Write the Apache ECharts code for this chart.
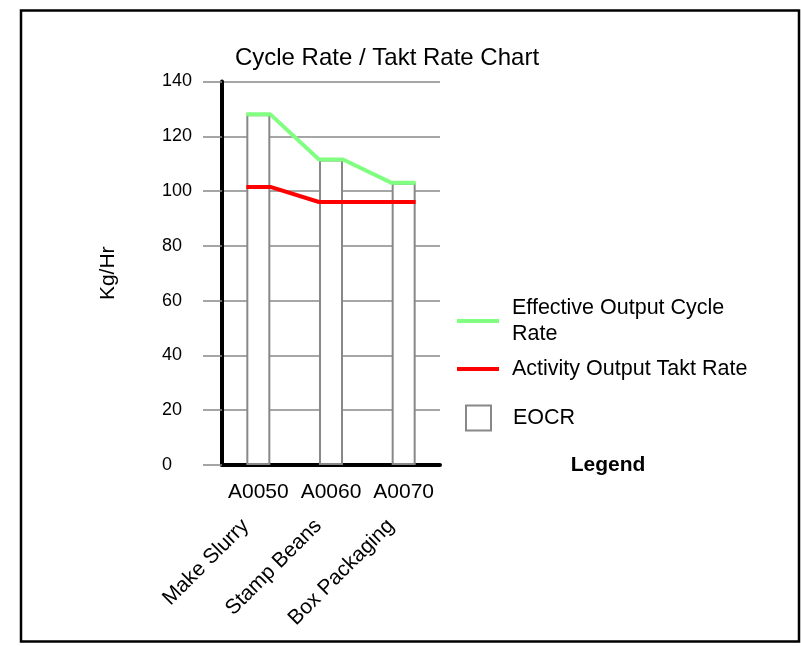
<!DOCTYPE html>
<html>
<head>
<meta charset="utf-8">
<script src="https://cdn.jsdelivr.net/npm/echarts@6/dist/echarts.min.js"></script>
<style>html,body{margin:0;padding:0;background:#fff}#c{width:801px;height:646px}</style>
</head>
<body>
<div id="c"></div>
<script>
const activityCodes = ['A0050', 'A0060', 'A0070'];
const activityNames = ['Make Slurry', 'Stamp Beans', 'Box Packaging'];
const eocrValues = [128, 111.5, 103];
const taktValues = [101.5, 96, 96];
const yTicks = { min: 0, max: 140, interval: 20 };
const seriesNames = ['Effective Output Cycle Rate', 'Activity Output Takt Rate', 'EOCR'];

const FONT = "'Liberation Sans', Arial, sans-serif";
const gridLeft = 222, gridRight = 361;
const plotWidth = 801 - gridLeft - gridRight;
const barWidthPx = 24;
const half = (barWidthPx / 2) / (plotWidth / activityCodes.length);

function stepLine(vals) {
  const pts = [];
  vals.forEach((v, i) => { pts.push([i - half, v]); pts.push([i + half, v]); });
  return pts;
}

const chart = echarts.init(document.getElementById('c'), null, { renderer: 'canvas' });
chart.setOption({
  animation: false,
  backgroundColor: '#fff',
  textStyle: { fontFamily: FONT, color: '#000' },
  grid: { left: gridLeft, right: gridRight, top: 81.5, bottom: 181 },
  graphic: [
    { type: 'rect', shape: { x: 21, y: 10.5, width: 778, height: 631 }, style: { fill: 'none', stroke: '#000', lineWidth: 2.5 }, silent: true },
    { type: 'text', x: 387, y: 58, style: { text: 'Cycle Rate / Takt Rate Chart', font: '24px ' + FONT, fill: '#000', textAlign: 'center', textVerticalAlign: 'middle' } },
    { type: 'text', x: 608, y: 465, style: { text: 'Legend', font: 'bold 21px ' + FONT, fill: '#000', textAlign: 'center', textVerticalAlign: 'middle' } }
  ],
  legend: [
    { data: [seriesNames[0]], left: 457, top: 295, padding: 0, orient: 'vertical', icon: 'rect', itemWidth: 42, itemHeight: 4, selectedMode: false,
      formatter: n => 'Effective Output Cycle\nRate',
      textStyle: { fontFamily: FONT, fontSize: 21.5, color: '#000', lineHeight: 26, padding: [0, 0, 0, 8] } },
    { data: [seriesNames[1]], left: 457, top: 356, padding: 0, icon: 'rect', itemWidth: 42, itemHeight: 4, selectedMode: false,
      textStyle: { fontFamily: FONT, fontSize: 21.5, color: '#000', lineHeight: 26, padding: [0, 0, 0, 8] } },
    { data: [seriesNames[2]], left: 465, top: 404.5, padding: 0, icon: 'rect', itemWidth: 25, itemHeight: 25, selectedMode: false,
      itemStyle: { color: '#fff', borderColor: '#888', borderWidth: 2 },
      textStyle: { fontFamily: FONT, fontSize: 21.5, color: '#000', lineHeight: 26, padding: [0, 0, 0, 17] } }
  ],
  xAxis: [
    { type: 'category', data: activityCodes, position: 'bottom', boundaryGap: true,
      axisLine: { onZero: false, lineStyle: { color: '#000', width: 4 } },
      axisTick: { show: false }, splitLine: { show: false },
      axisLabel: { interval: 0, margin: 17, fontSize: 21, color: '#000', fontFamily: FONT } },
    { type: 'category', data: activityNames, position: 'bottom', boundaryGap: true,
      axisLine: { show: false, onZero: false }, axisTick: { show: false }, splitLine: { show: false },
      axisLabel: { interval: 0, rotate: 45, margin: 45, padding: [0, 18, 0, 0], fontSize: 21, color: '#000', fontFamily: FONT } },
    { type: 'value', min: -0.5, max: 2.5, position: 'top', show: false,
      axisLine: { onZero: false }, splitLine: { show: false } }
  ],
  yAxis: {
    type: 'value', min: yTicks.min, max: yTicks.max, interval: yTicks.interval,
    name: 'Kg/Hr', nameLocation: 'middle', nameGap: 103,
    nameTextStyle: { fontSize: 21, color: '#000', fontFamily: FONT },
    axisLine: { show: true, onZero: false, lineStyle: { color: '#000', width: 4 } },
    axisTick: { show: true, length: 19, lineStyle: { color: '#888', width: 1.5 } },
    splitLine: { show: true, lineStyle: { color: '#888', width: 1.5 } },
    axisLabel: { align: 'left', margin: 60, fontSize: 18, color: '#000', fontFamily: FONT }
  },
  series: [
    { name: seriesNames[2], type: 'bar', xAxisIndex: 0, data: eocrValues, barWidth: barWidthPx,
      itemStyle: { color: '#fff', borderColor: '#888', borderWidth: 2 }, z: 2 },
    { name: seriesNames[0], type: 'line', xAxisIndex: 2, data: stepLine(eocrValues), symbol: 'none',
      color: '#80FF80', lineStyle: { color: '#80FF80', width: 4 }, z: 4 },
    { name: seriesNames[1], type: 'line', xAxisIndex: 2, data: stepLine(taktValues), symbol: 'none',
      color: '#FF0000', lineStyle: { color: '#FF0000', width: 4 }, z: 3 }
  ]
});
</script>
</body>
</html>
